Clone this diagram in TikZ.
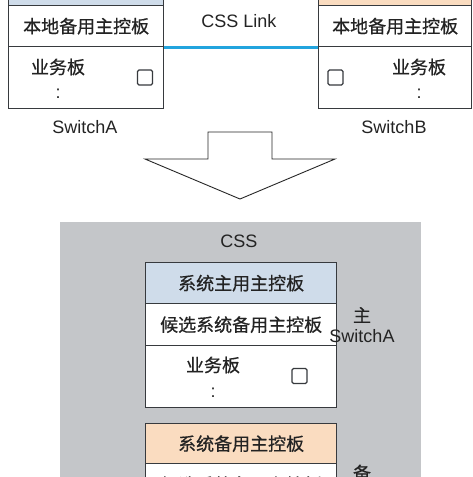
\documentclass[tikz,border=0pt]{standalone}
\usepackage{fontspec}
\setmainfont{Liberation Sans}
\newfontfamily\cjk[FakeBold=0.6]{Noto Sans CJK SC}
\definecolor{bluerow}{RGB}{207,220,234}
\definecolor{orangerow}{RGB}{250,220,192}
\definecolor{edge}{RGB}{55,58,62}
\definecolor{cssgrey}{RGB}{196,198,201}
\definecolor{linkblue}{RGB}{34,164,222}
\definecolor{txt}{RGB}{35,35,35}
\begin{document}
\begin{tikzpicture}[x=1pt,y=-1pt,
  rowbox/.style={draw=edge, line width=1.3pt, anchor=north west, inner sep=0pt,
    minimum width=#1, font=\cjk\fontsize{18}{20}\selectfont, text=txt},
  rowbox/.default=155pt,
  lbl/.style={font=\fontsize{18}{20}\selectfont, text=txt, inner sep=0pt},
  clbl/.style={font=\cjk\fontsize{18}{20}\selectfont, text=txt, inner sep=0pt},
  chk/.style={draw=edge, line width=1.2pt, rounded corners=1.5pt, minimum width=15pt,
    minimum height=15pt, inner sep=0pt},
  link/.style={draw=linkblue, line width=3pt},
  bigarrow/.style={draw=black!85, line width=0.9pt, fill=white, line join=miter}
]
\useasboundingbox (0,0) rectangle (473,477);
\clip (0,0) rectangle (473,477);

% ---------- top left: SwitchA ----------
\node[rowbox=155pt, fill=bluerow, minimum height=20pt] (a1) at (8,-15) {};
\node[rowbox=155pt, fill=white, minimum height=41pt] (a2) at (8,5) {本地备用主控板};
\node[rowbox=155pt, fill=white, minimum height=62pt] (a3) at (8,46) {};
\node[clbl] (a3t) at (58,67) {业务板};
\node[lbl] (a3c) at (58,93.5) {:};
\node[chk] (a3k) at (145,77.5) {};
\node[lbl] (swa) at (85,127) {SwitchA};

% ---------- top right: SwitchB ----------
\node[rowbox=153pt, fill=orangerow, minimum height=20pt] (b1) at (318,-15) {};
\node[rowbox=153pt, fill=white, minimum height=41pt] (b2) at (318,5) {本地备用主控板};
\node[rowbox=153pt, fill=white, minimum height=62pt] (b3) at (318,46) {};
\node[clbl] (b3t) at (419,67) {业务板};
\node[lbl] (b3c) at (419,93.5) {:};
\node[chk] (b3k) at (335.5,77.5) {};
\node[lbl] (swb) at (394,127) {SwitchB};

% ---------- CSS link ----------
\draw[link] (a2.south east) -- (b2.south west);
\node[lbl] (csslink) at (239,21) {CSS Link};

% ---------- big arrow ----------
\draw[bigarrow] (208,132) -- (272,132) -- (272,159) -- (335,159) -- (240,199)
  -- (145,159) -- (208,159) -- cycle;

% ---------- CSS area ----------
\node[fill=cssgrey, anchor=north west, minimum width=361pt, minimum height=270pt,
  inner sep=0pt] (css) at (60,222) {};
\node[lbl] (csst) at (239,241) {CSS};

\node[rowbox=191pt, fill=bluerow, minimum height=41pt] (c1) at (145,262) {系统主用主控板};
\node[rowbox=191pt, fill=white, minimum height=42pt] (c2) at (145,303) {候选系统备用主控板};
\node[rowbox=191pt, fill=white, minimum height=62pt] (c3) at (145,345) {};
\node[clbl] (c3t) at (213,365) {业务板};
\node[lbl] (c3c) at (213,392.5) {:};
\node[chk] (c3k) at (299.5,376) {};
\node[clbl] (zhu) at (362,315) {主};
\node[lbl] (swa2) at (362,336) {SwitchA};

\node[rowbox=191pt, fill=orangerow, minimum height=40pt] (d1) at (145,423) {系统备用主控板};
\node[rowbox=191pt, fill=white, minimum height=42pt] (d2) at (145,463) {候选系统备用主控板};
\node[clbl] (bei) at (362,473) {备};
\end{tikzpicture}
\end{document}
